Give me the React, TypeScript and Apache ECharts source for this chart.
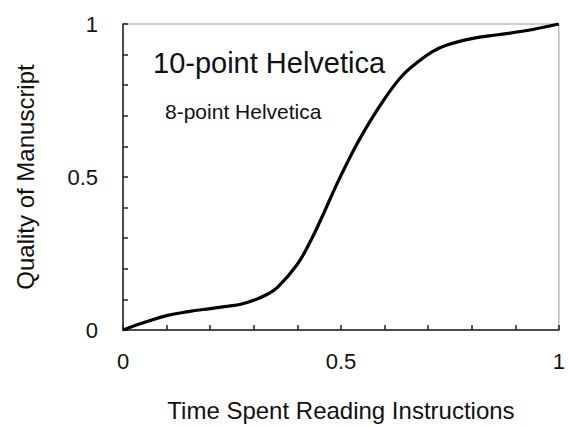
import React, { useEffect, useRef } from "react";
import * as echarts from "echarts";

const xValues = [0, 0.05, 0.1, 0.15, 0.2, 0.242, 0.27, 0.3, 0.33, 0.355, 0.4, 0.43, 0.46, 0.49, 0.53, 0.566, 0.6, 0.64, 0.68, 0.71, 0.74, 0.8, 0.86, 0.92, 1];
const yValues = [0, 0.025, 0.047, 0.06, 0.07, 0.078, 0.084, 0.097, 0.116, 0.14, 0.215, 0.29, 0.38, 0.475, 0.59, 0.68, 0.755, 0.83, 0.88, 0.91, 0.93, 0.952, 0.965, 0.977, 1];
const tickLabels = ["0", "0.5", "1"];
const xTitle = "Time Spent Reading Instructions";
const yTitle = "Quality of Manuscript";
const bigNote = "10-point Helvetica";
const smallNote = "8-point Helvetica";

const FONT = "'Liberation Sans', Arial, Helvetica, sans-serif";

function fmt(v: number): string {
  const r = Math.round(v * 10) / 10;
  const s = r === 0 ? "0" : r === 0.5 ? "0.5" : r === 1 ? "1" : "";
  return tickLabels.includes(s) ? s : "";
}

export default function App() {
  const ref = useRef<HTMLDivElement>(null);
  useEffect(() => {
    if (!ref.current) return;
    const chart = echarts.init(ref.current, null, { renderer: "svg" });
    const axisCommon = {
      type: "value",
      min: 0,
      max: 1,
      interval: 0.1,
      splitLine: { show: false },
      axisLine: { show: true, lineStyle: { color: "#222", width: 1.5 } },
      axisTick: { show: true, inside: true, length: 5, lineStyle: { color: "#222", width: 1.5 } },
      axisLabel: {
        formatter: fmt,
        color: "#111",
        fontSize: 22,
        fontFamily: FONT,
        showMinLabel: true,
        showMaxLabel: true,
      },
      nameLocation: "middle",
      nameTextStyle: { color: "#111", fontSize: 24, fontFamily: FONT },
    };
    chart.setOption({
      animation: false,
      backgroundColor: "#fff",
      grid: {
        left: 123,
        top: 24,
        right: 3,
        bottom: 96,
        show: true,
        borderColor: "#999",
        borderWidth: 1,
      },
      xAxis: {
        ...axisCommon,
        name: xTitle,
        nameGap: 68,
        axisLabel: { ...axisCommon.axisLabel, margin: 20 },
      },
      yAxis: {
        ...axisCommon,
        name: yTitle,
        nameGap: 86,
        axisLabel: { ...axisCommon.axisLabel, margin: 25 },
      },
      graphic: [
        {
          type: "text",
          left: 153,
          top: 48,
          style: { text: bigNote, fontSize: 29, fontFamily: FONT, fill: "#111" },
        },
        {
          type: "text",
          left: 165,
          top: 101,
          style: { text: smallNote, fontSize: 21, fontFamily: FONT, fill: "#111" },
        },
      ],
      series: [
        {
          type: "line",
          data: xValues.map((x, i) => [x, yValues[i]]),
          smooth: 0.4,
          showSymbol: false,
          lineStyle: { color: "#000", width: 3.2 },
        },
      ],
    });
    return () => chart.dispose();
  }, []);
  return (
    <div
      ref={ref}
      style={{ position: "fixed", left: 0, top: 0, width: 568, height: 427 }}
    />
  );
}
